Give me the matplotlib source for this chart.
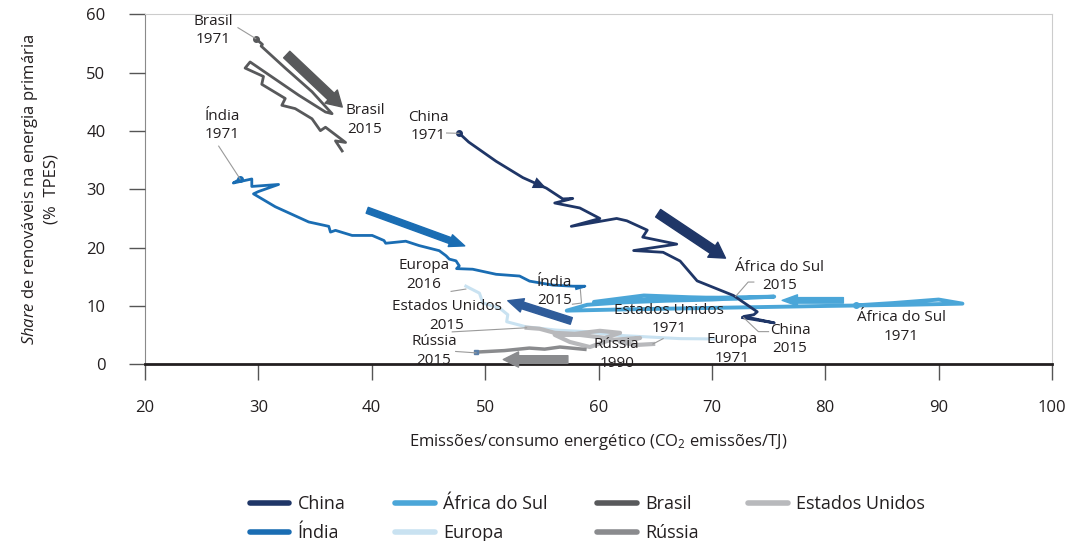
import matplotlib.pyplot as plt
from matplotlib.lines import Line2D

# Global style
plt.rcParams.update({
    "font.family": ["Open Sans", "DejaVu Sans"],
    "mathtext.fontset": "custom",
    "mathtext.rm": "Open Sans",
    "mathtext.it": "Open Sans:italic",
    "figure.dpi": 100,
})

# Data
china_x = [47.72, 48.55, 50.97, 53.33, 55.4, 56.85, 57.73, 56.14, 58.35, 60.12, 57.6, 61.6,
           62.5, 64.3, 63.9, 66.9, 63.1, 65.7, 67.2, 68.7, 71.9, 73.1, 74.0, 73.7, 72.8, 75.5, 72.7]
china_y = [39.6, 38.1, 34.8, 32.0, 30.2, 28.35, 28.43, 27.65, 26.8, 25.0, 23.65, 25.0,
           24.6, 23.0, 21.8, 20.6, 19.5, 19.2, 17.7, 14.3, 11.8, 10.2, 9.0, 8.5, 8.2, 7.1, 8.0]

india_x = [28.39, 27.79, 29.42, 29.42, 31.78, 30.01, 29.57, 31.49, 34.44, 36.21, 36.36, 36.8,
           38.27, 40.04, 41.08, 41.23, 43.0, 44.18, 45.95, 46.55, 46.84, 47.43, 47.72, 47.48,
           48.9, 50.97, 53.04, 53.92, 55.99, 57.76, 58.8, 58.06]
india_y = [31.77, 31.08, 31.77, 30.49, 30.83, 29.62, 29.22, 27.01, 24.4, 23.65, 22.66, 22.96,
           22.09, 22.09, 21.22, 20.75, 21.1, 20.35, 19.48, 18.61, 18.03, 17.74, 16.87, 16.4,
           16.3, 15.43, 15.13, 14.26, 13.57, 13.39, 13.39, 12.99]

brasil_x = [29.77, 30.36, 30.24, 32.37, 34.73, 36.5, 35.92, 33.55, 29.27, 28.83, 30.45, 30.3,
            32.37, 32.07, 33.25, 34.73, 35.47, 35.92, 37.69, 36.8, 37.39]
brasil_y = [55.83, 54.83, 54.56, 50.78, 46.73, 42.96, 43.25, 46.14, 51.83, 50.78, 49.34, 48.0,
            45.57, 44.4, 43.83, 42.09, 40.05, 40.64, 38.03, 38.3, 36.57]

africa_x = [82.7, 86.0, 90.0, 92.1, 87.0, 80.0, 74.0, 68.0, 62.0, 57.2, 59.0, 62.0, 66.0,
            70.0, 75.5, 70.0, 64.0, 59.6, 64.0, 68.0, 72.1]
africa_y = [10.1, 10.5, 11.1, 10.4, 10.2, 10.0, 9.8, 9.6, 9.4, 9.2, 10.2, 10.6, 10.9,
            11.1, 11.6, 11.4, 11.1, 10.7, 11.8, 11.5, 11.3]

europa_x = [70.3, 67.2, 64.3, 61.3, 58.9, 56.3, 53.6, 51.9, 52.0, 51.3, 49.8, 49.5, 48.3]
europa_y = [4.35, 4.4, 4.7, 5.0, 5.6, 5.86, 6.43, 7.3, 8.5, 9.6, 10.5, 12.2, 13.4]

eua_x = [64.82, 63.22, 61.9, 63.67, 61.0, 59.24, 57.47, 56.14, 58.35, 60.57, 61.9, 60.12,
         57.9, 56.14, 54.81, 53.66]
eua_y = [3.48, 3.30, 3.83, 4.52, 4.17, 2.96, 3.83, 5.04, 5.04, 4.52, 5.39, 5.74,
         5.22, 5.39, 6.09, 6.26]

russia_x = [58.8, 56.6, 55.25, 53.9, 51.7, 49.2]
russia_y = [2.56, 2.96, 2.6, 2.78, 2.35, 2.09]

colors = {
    "China": "#1f3667",
    "Índia": "#1a6db3",
    "África do Sul": "#4ba6d8",
    "Europa": "#c9e2f1",
    "Brasil": "#58595b",
    "Rússia": "#8a8b8e",
    "Estados Unidos": "#b8b9bc",
}

# trend arrows: (tail, tip, colour, shaft width in pt)
arrows = [
    ((32.5, 53.1), (37.4, 44.1), colors["Brasil"], 6.5),
    ((65.26, 25.9), (71.2, 18.2), colors["China"], 6.5),
    ((39.6, 26.4), (48.2, 20.3), colors["Índia"], 4.5),
    ((81.6, 10.96), (76.2, 10.96), colors["África do Sul"], 4.0),
    ((57.6, 7.43), (52.0, 10.9), "#2f5c9a", 5.0),
    ((57.3, 0.82), (51.6, 0.82), colors["Rússia"], 5.5),
]

# labels: text, centre position, leader polyline
labels = [
    ("Brasil\n1971", (26.0, 57.2), [(28.2, 57.7), (29.77, 55.83)]),
    ("Índia\n1971", (26.8, 40.9), [(26.5, 37.4), (28.39, 31.77)]),
    ("Brasil\n2015", (39.4, 41.9), None),
    ("China\n1971", (45.0, 40.8), [(46.6, 39.65), (47.7, 39.6)]),
    ("Europa\n2016", (44.6, 15.3), [(47.0, 12.5), (48.3, 12.9)]),
    ("Índia\n2015", (56.1, 12.5), [(57.7, 10.3), (58.5, 10.5), (58.4, 12.8)]),
    ("Estados Unidos\n2015", (46.6, 8.3), [(47.1, 5.56), (53.66, 6.26)]),
    ("Rússia\n2015", (45.5, 2.26), [(47.4, 2.2), (49.2, 1.96)]),
    ("Rússia\n1990", (61.6, 1.74), None),
    ("Estados Unidos\n1971", (66.2, 7.65), [(65.7, 4.4), (64.8, 3.48)]),
    ("Europa\n1971", (71.8, 2.6), None),
    ("África do Sul\n2015", (76.0, 15.1), [(73.7, 14.1), (73.2, 14.1), (72.1, 11.65)]),
    ("China\n2015", (76.9, 4.2), [(75.0, 5.6), (74.1, 5.6), (72.8, 8.0)]),
    ("África do Sul\n1971", (86.7, 6.4), None),
]

fig = plt.figure(figsize=(10.66, 5.41))
ax = fig.add_axes([145 / 1066, 1 - 364.3 / 541, 907 / 1066, 350 / 541])

# series, drawn back to front
ax.plot(europa_x, europa_y, color=colors["Europa"], lw=2.2)
ax.plot(eua_x, eua_y, color=colors["Estados Unidos"], lw=3)
ax.plot(russia_x, russia_y, color=colors["Rússia"], lw=2.5)
ax.plot(africa_x, africa_y, color=colors["África do Sul"], lw=2.8)
ax.plot(india_x, india_y, color=colors["Índia"], lw=2)
ax.plot(brasil_x, brasil_y, color=colors["Brasil"], lw=2)
ax.plot(china_x, china_y, color=colors["China"], lw=2)

# start / end dots
for xs, ys, c in [(china_x, china_y, "China"), (india_x, india_y, "Índia"),
                  (brasil_x, brasil_y, "Brasil"), (africa_x, africa_y, "África do Sul")]:
    ax.plot(xs[0], ys[0], "o", ms=4, color=colors[c])
ax.plot(russia_x[-1], russia_y[-1], "s", ms=3, color="#5b7fa8")

# little arrow head on the China path
ax.annotate("", xy=(china_x[4], china_y[4]), xytext=(china_x[3], china_y[3]),
            arrowprops=dict(arrowstyle="-|>,head_length=0.8,head_width=0.35",
                            color=colors["China"], lw=0, shrinkA=0, shrinkB=0,
                            mutation_scale=12))

for tail, tip, c, w in arrows:
    ax.annotate("", xy=tip, xytext=tail,
                arrowprops=dict(arrowstyle=f"simple,head_length=1.1,head_width={w / 5:.2f},tail_width={w / 10:.2f}",
                                color=c, shrinkA=0, shrinkB=0, mutation_scale=10))

for txt, (tx, ty), leader in labels:
    ax.text(tx, ty, txt, ha="center", va="center", fontsize=11, color="#231f20",
            linespacing=1.3)
    if leader:
        ax.plot([p[0] for p in leader], [p[1] for p in leader], color="#9a9a9a", lw=0.8)

# axes
ax.set_xlim(20, 100)
ax.set_ylim(0, 60)
ax.set_xticks(range(20, 101, 10))
ax.set_yticks(range(0, 61, 10))
ax.tick_params(axis="both", direction="out", length=11.5, width=1, color="#555555",
               labelsize=12, labelcolor="#231f20")
ax.tick_params(axis="y", pad=17)
ax.tick_params(axis="x", pad=14)
ax.spines["bottom"].set_color("#231f20")
ax.spines["bottom"].set_linewidth(2)
ax.spines["left"].set_color("#8a8a8a")
ax.spines["top"].set_color("#cccccc")
ax.spines["right"].set_color("#cccccc")
ax.spines["left"].set_zorder(0)

ax.set_xlabel("Emissões/consumo energético (CO$_2$ emissões/TJ)", fontsize=12,
              color="#231f20", labelpad=12)
fig.text(40 / 1066, 1 - 189 / 541,
         "$\\mathit{Share}$ de renováveis na energia primária\n(%  TPES)",
         rotation=90, ha="center", va="center", fontsize=12, color="#231f20",
         multialignment="center", linespacing=1.3)

# legend
order = ["China", "Índia", "África do Sul", "Europa", "Brasil", "Rússia", "Estados Unidos"]
handles = [Line2D([], [], color=colors[k], lw=4, solid_capstyle="round") for k in order]
fig.legend(handles, order, ncol=4, loc="upper center", bbox_to_anchor=(0.551, 0.115),
           frameon=False, fontsize=13, handlelength=2.2, handletextpad=0.45,
           columnspacing=2.75, labelspacing=0.6, labelcolor="#231f20")

fig.savefig("out.png", dpi=100)
